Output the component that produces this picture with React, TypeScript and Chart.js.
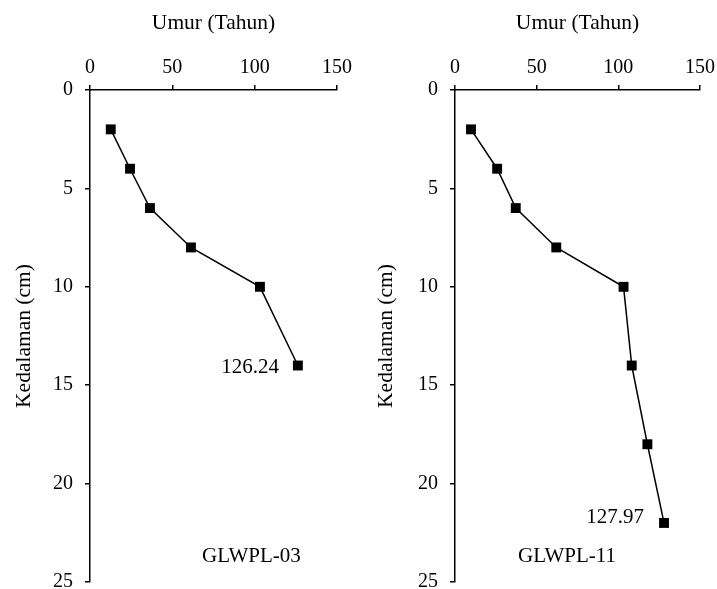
import React, { useEffect, useRef } from "react";
import { Chart, registerables } from "chart.js";

Chart.register(...registerables);

// ---- Data ----
const depthsA = [2, 4, 6, 8, 10, 14];
const agesA = [12.6, 24.3, 36.4, 61.3, 103.2, 126.24];
const depthsB = [2, 4, 6, 8, 10, 14, 18, 22];
const agesB = [9.8, 25.8, 37.2, 62.0, 103.2, 108.2, 117.8, 127.97];
const xTicks = [0, 50, 100, 150];
const yTicks = [0, 5, 10, 15, 20, 25];
const xTitle = "Umur (Tahun)";
const yTitle = "Kedalaman (cm)";
const nameA = "GLWPL-03";
const nameB = "GLWPL-11";

const FONT = "'Liberation Serif', 'Times New Roman', serif";

type PanelProps = {
  ages: number[];
  depths: number[];
  name: string;
  width: number;
  axisLeft: number;
  titlePad: number;
  rightPad: number;
  nameAt: [number, number];
  labelDy: number;
  labelDx: number;
};

function Panel(p: PanelProps) {
  const ref = useRef<HTMLCanvasElement | null>(null);
  useEffect(() => {
    if (!ref.current) return;
    const data = p.ages.map((a, i) => ({ x: a, y: p.depths[i] }));
    const labelPlugin = {
      id: "labels_" + p.name,
      afterDatasetsDraw(chart: any) {
        const ctx = chart.ctx;
        const meta = chart.getDatasetMeta(0);
        const last = meta.data[meta.data.length - 1];
        ctx.save();
        ctx.fillStyle = "#000";
        ctx.font = `21px ${FONT}`;
        ctx.textAlign = "right";
        ctx.textBaseline = "middle";
        ctx.fillText(
          p.ages[p.ages.length - 1].toFixed(2),
          last.x - p.labelDx,
          last.y + p.labelDy
        );
        ctx.textAlign = "center";
        const nx = chart.scales.x.getPixelForValue(p.nameAt[0]);
        const ny = chart.scales.y.getPixelForValue(p.nameAt[1]);
        ctx.fillText(p.name, nx, ny);
        ctx.restore();
      },
    };
    const chart = new Chart(ref.current, {
      type: "scatter",
      data: {
        datasets: [
          {
            data,
            showLine: true,
            borderColor: "#000",
            borderWidth: 1.5,
            backgroundColor: "#000",
            pointStyle: "rect",
            pointRadius: 7,
            pointBorderWidth: 0,
          },
        ],
      },
      options: {
        animation: false,
        responsive: false,
        events: [],
        layout: { padding: { left: 0, top: 0, right: p.rightPad, bottom: 7 } },
        plugins: { legend: { display: false }, tooltip: { enabled: false } },
        scales: {
          x: {
            type: "linear",
            position: "top",
            min: 0,
            max: 150,
            afterBuildTicks: (s: any) => {
              s.ticks = xTicks.map((v) => ({ value: v }));
            },
            afterFit: (s: any) => {
              s.height = 90;
              s.paddingLeft = 0;
              s.paddingRight = 0;
            },
            ticks: {
              color: "#000",
              font: { family: FONT, size: 20 },
              padding: 5,
              maxRotation: 0,
            },
            grid: {
              display: true,
              drawOnChartArea: false,
              drawTicks: true,
              tickLength: 5,
              color: "#000",
              lineWidth: 1.5,
            },
            border: { display: true, color: "#000", width: 1.5 },
            title: {
              display: true,
              text: xTitle,
              color: "#000",
              font: { family: FONT, size: 21.5 },
              padding: { top: 10, bottom: 0 },
            },
          },
          y: {
            type: "linear",
            reverse: true,
            min: 0,
            max: 25,
            afterBuildTicks: (s: any) => {
              s.ticks = yTicks.map((v) => ({ value: v }));
            },
            afterFit: (s: any) => {
              s.width = p.axisLeft;
              s.paddingTop = 0;
              s.paddingBottom = 0;
            },
            ticks: {
              color: "#000",
              font: { family: FONT, size: 20 },
              padding: 12,
            },
            grid: {
              display: true,
              drawOnChartArea: false,
              drawTicks: true,
              tickLength: 5,
              color: "#000",
              lineWidth: 1.5,
            },
            border: { display: true, color: "#000", width: 1.5 },
            title: {
              display: true,
              text: yTitle,
              color: "#000",
              font: { family: FONT, size: 21.5 },
              padding: { top: p.titlePad, bottom: 0 },
            },
          },
        },
      },
      plugins: [labelPlugin],
    } as any);
    return () => chart.destroy();
  }, []);
  return (
    <canvas
      ref={ref}
      width={p.width}
      height={589}
      style={{ display: "block", width: p.width, height: 589 }}
    />
  );
}

export default function App() {
  return (
    <div
      style={{
        position: "absolute",
        left: 0,
        top: 0,
        width: 717,
        height: 589,
        display: "flex",
        background: "#fff",
      }}
    >
      <Panel
        ages={agesA}
        depths={depthsA}
        name={nameA}
        width={358}
        axisLeft={90}
        titlePad={11}
        rightPad={21}
        nameAt={[98, 23.7]}
        labelDx={19}
        labelDy={2}
      />
      <Panel
        ages={agesB}
        depths={depthsB}
        name={nameB}
        width={359}
        axisLeft={97}
        titlePad={15}
        rightPad={17}
        nameAt={[68.6, 23.7]}
        labelDx={20}
        labelDy={-5}
      />
    </div>
  );
}
